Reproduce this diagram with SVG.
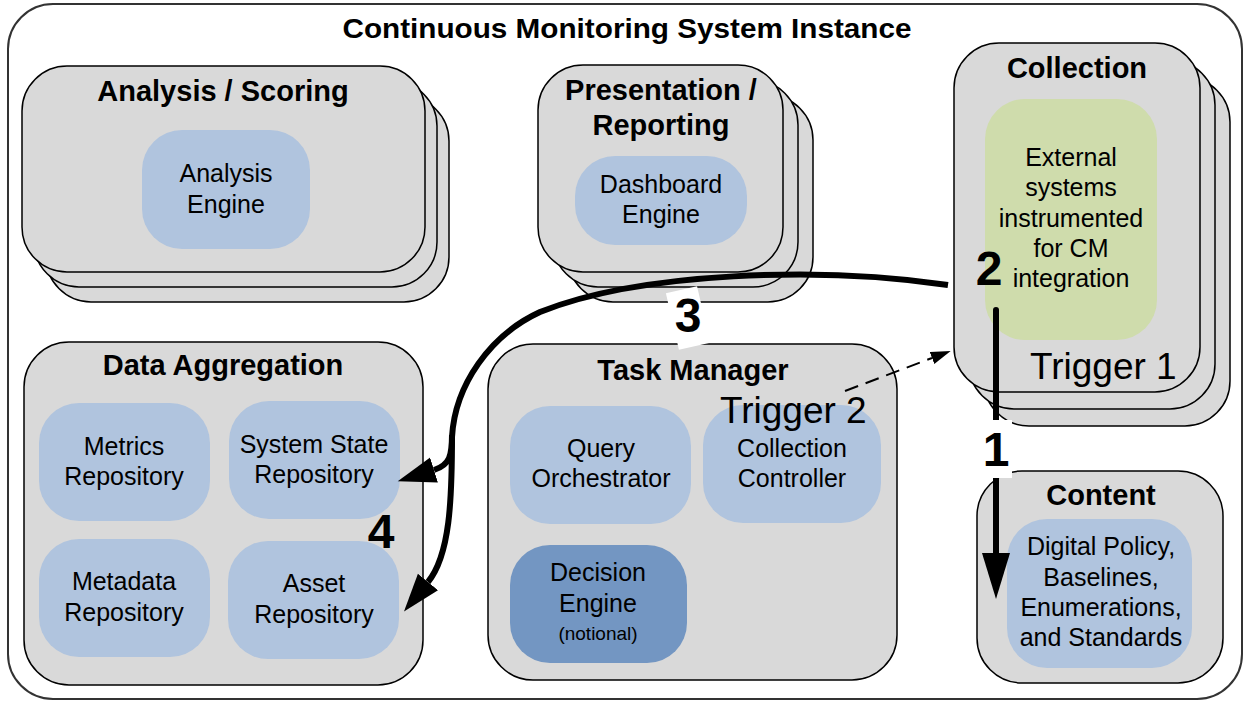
<svg xmlns="http://www.w3.org/2000/svg" width="1247" height="702" viewBox="0 0 1247 702">
<defs>
<style>
text{font-family:"Liberation Sans",Arial,sans-serif;fill:#000;}
.outer{fill:#fff;stroke:#333;stroke-width:2;}
.grp{fill:#d9d9d9;stroke:#000;stroke-width:1.5;}
.comp{fill:#b0c4de;stroke:none;}
.dark{fill:#7396c2;stroke:none;}
.green{fill:#cfdcac;stroke:none;}
.title{font-size:29px;font-weight:bold;text-anchor:middle;}
.lbl{font-size:25px;text-anchor:middle;}
.small{font-size:19px;text-anchor:middle;}
.trig{font-size:37px;}
.num{font-size:48px;font-weight:bold;text-anchor:middle;}
.flow{fill:none;stroke:#000;stroke-width:6;}
.dash{fill:none;stroke:#000;stroke-width:2;stroke-dasharray:14,8;}
</style>
<marker id="bigHead" markerUnits="userSpaceOnUse" markerWidth="48" markerHeight="30" refX="0" refY="14" orient="auto" viewBox="0 0 48 30">
<path d="M0,0 L46,14 L0,28 z" fill="#000"/>
</marker>
<marker id="head" markerUnits="userSpaceOnUse" markerWidth="40" markerHeight="28" refX="0" refY="13" orient="auto" viewBox="0 0 40 28">
<path d="M0,0 L38,13 L0,26 z" fill="#000"/>
</marker>
<marker id="smallHead" markerUnits="userSpaceOnUse" markerWidth="22" markerHeight="14" refX="0" refY="6.5" orient="auto" viewBox="0 0 22 14">
<path d="M0,0 L20,6.5 L0,13 z" fill="#000"/>
</marker>
</defs>

<g id="cm-system">
<rect class="outer" x="8" y="4" width="1234" height="695" rx="45"/>
<text x="627" y="38" class="title" style="font-size:28px" textLength="569" lengthAdjust="spacingAndGlyphs">Continuous Monitoring System Instance</text>
</g>

<g id="analysis-scoring">
<rect class="grp" x="46" y="96" width="403" height="206" rx="45"/>
<rect class="grp" x="34" y="81" width="403" height="206" rx="45"/>
<rect class="grp" x="22" y="66" width="403" height="206" rx="45"/>
<text x="223" y="101" class="title">Analysis / Scoring</text>
<g id="analysis-engine">
<rect class="comp" x="142" y="130" width="168" height="119" rx="40"/>
<text x="226" y="182" class="lbl">Analysis</text>
<text x="226" y="213" class="lbl">Engine</text>
</g>
</g>

<g id="presentation-reporting">
<rect class="grp" x="568" y="95" width="245" height="207" rx="45"/>
<rect class="grp" x="553" y="80" width="245" height="207" rx="45"/>
<rect class="grp" x="538" y="65" width="245" height="207" rx="45"/>
<text x="661" y="100" class="title">Presentation /</text>
<text x="661" y="135" class="title">Reporting</text>
<g id="dashboard-engine">
<rect class="comp" x="575" y="156" width="172" height="89" rx="40"/>
<text x="661" y="193" class="lbl">Dashboard</text>
<text x="661" y="223" class="lbl">Engine</text>
</g>
</g>

<g id="collection">
<rect class="grp" x="984" y="77" width="246" height="349" rx="45"/>
<rect class="grp" x="969" y="60" width="246" height="349" rx="45"/>
<rect class="grp" x="954" y="43" width="246" height="349" rx="45"/>
<text x="1077" y="78" class="title">Collection</text>
<g id="external-systems">
<rect class="green" x="985" y="99" width="172" height="241" rx="40"/>
<text x="1071" y="166" class="lbl">External</text>
<text x="1071" y="196" class="lbl">systems</text>
<text x="1071" y="227" class="lbl">instrumented</text>
<text x="1071" y="257" class="lbl">for CM</text>
<text x="1071" y="287" class="lbl">integration</text>
</g>
<text x="1030" y="379" class="trig">Trigger 1</text>
</g>

<g id="data-aggregation">
<rect class="grp" x="24" y="342" width="399" height="343" rx="45"/>
<text x="223" y="375" class="title">Data Aggregation</text>
<g id="metrics-repository">
<rect class="comp" x="39" y="403" width="171" height="118" rx="40"/>
<text x="124" y="455" class="lbl">Metrics</text>
<text x="124" y="485" class="lbl">Repository</text>
</g>
<g id="system-state-repository">
<rect class="comp" x="229" y="401" width="171" height="118" rx="40"/>
<text x="314" y="453" class="lbl">System State</text>
<text x="314" y="483" class="lbl">Repository</text>
</g>
<g id="metadata-repository">
<rect class="comp" x="39" y="539" width="171" height="118" rx="40"/>
<text x="124" y="590" class="lbl">Metadata</text>
<text x="124" y="621" class="lbl">Repository</text>
</g>
<g id="asset-repository">
<rect class="comp" x="228" y="541" width="171" height="118" rx="40"/>
<text x="314" y="592" class="lbl">Asset</text>
<text x="314" y="623" class="lbl">Repository</text>
</g>
</g>

<g id="task-manager">
<rect class="grp" x="488" y="344" width="409" height="336" rx="45"/>
<text x="693" y="380" class="title">Task Manager</text>
<g id="query-orchestrator">
<rect class="comp" x="510" y="406" width="181" height="118" rx="40"/>
<text x="601" y="457" class="lbl">Query</text>
<text x="601" y="487" class="lbl">Orchestrator</text>
</g>
<g id="collection-controller">
<rect class="comp" x="703" y="405" width="178" height="118" rx="40"/>
<text x="792" y="457" class="lbl">Collection</text>
<text x="792" y="487" class="lbl">Controller</text>
</g>
<g id="decision-engine">
<rect class="dark" x="510" y="545" width="177" height="118" rx="40"/>
<text x="598" y="581" class="lbl">Decision</text>
<text x="598" y="612" class="lbl">Engine</text>
<text x="598" y="640" class="small">(notional)</text>
</g>
<text x="720" y="423" class="trig">Trigger 2</text>
</g>

<g id="content">
<rect class="grp" x="977" y="471" width="246" height="212" rx="45"/>
<text x="1101" y="505" class="title">Content</text>
<g id="digital-policy">
<rect class="comp" x="1007" y="519" width="185" height="149" rx="40"/>
<text x="1101" y="555" class="lbl">Digital Policy,</text>
<text x="1101" y="586" class="lbl">Baselines,</text>
<text x="1101" y="616" class="lbl">Enumerations,</text>
<text x="1101" y="646" class="lbl">and Standards</text>
</g>
</g>

<g id="connectors">
<path class="dash" d="M845,391 L932,358" marker-end="url(#smallHead)"/>
<path class="flow" d="M996,310 L996,553" stroke-linecap="round" marker-end="url(#bigHead)"/>
<rect x="980" y="420" width="32" height="58" fill="#fff"/>
<text x="996" y="466" class="num">1</text>
<text x="989" y="285" class="num">2</text>
<rect x="672" y="289" width="32" height="58" fill="#fff" transform="rotate(-13 688 318)"/>
<path class="flow" d="M948,285 C820,266 640,272 540,312 C490,335 455,385 452,437"/>
<path class="flow" d="M452,435 C452,455 450,465 434,470" marker-end="url(#head)"/>
<path class="flow" d="M452,435 C452,500 450,555 428,582" marker-end="url(#head)"/>
<text x="688" y="332" class="num">3</text>
<text x="381" y="548" class="num">4</text>
</g>
</svg>
